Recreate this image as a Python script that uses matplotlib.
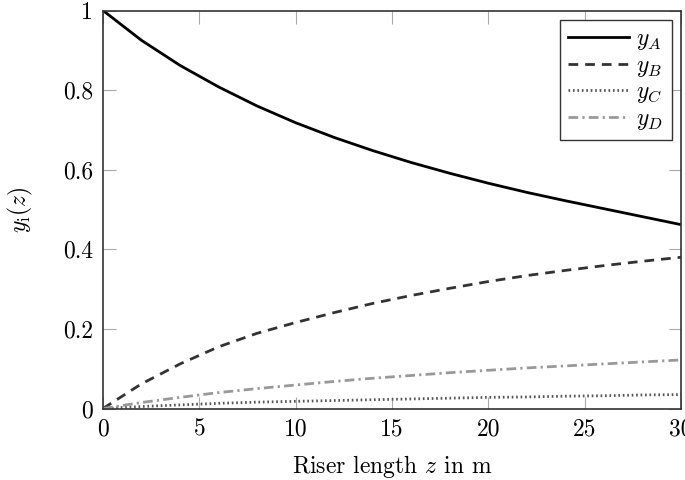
import numpy as np
import matplotlib
matplotlib.use("Agg")
import matplotlib.pyplot as plt

z = [0, 2, 4, 6, 8, 10, 12, 14, 16, 18, 20, 22, 24, 26, 28, 30]
y_A = [1.0, 0.925, 0.862, 0.808, 0.760, 0.718, 0.681, 0.648, 0.618, 0.591, 0.566, 0.543, 0.522, 0.502, 0.482, 0.462]
y_B = [0.0, 0.062, 0.112, 0.155, 0.189, 0.216, 0.241, 0.264, 0.284, 0.302, 0.319, 0.334, 0.347, 0.359, 0.370, 0.380]
y_C = [0.0, 0.005, 0.009, 0.013, 0.016, 0.018, 0.020, 0.022, 0.024, 0.026, 0.028, 0.029, 0.031, 0.032, 0.034, 0.035]
y_D = [0.0, 0.015, 0.028, 0.040, 0.050, 0.059, 0.068, 0.076, 0.083, 0.090, 0.096, 0.102, 0.107, 0.112, 0.117, 0.122]
x_ticks = [0, 5, 10, 15, 20, 25, 30]
y_ticks = [0, 0.2, 0.4, 0.6, 0.8, 1]
y_tick_labels = ['0', '0.2', '0.4', '0.6', '0.8', '1']

plt.rcParams['font.family'] = 'serif'
plt.rcParams['font.serif'] = ['cmr10', 'DejaVu Serif']
plt.rcParams['mathtext.fontset'] = 'cm'
plt.rcParams['axes.formatter.use_mathtext'] = True

fig = plt.figure(figsize=(6.85, 4.8), dpi=100)
ax = fig.add_axes([103/685, 1-408.5/480, 578/685, 398/480])

ax.plot(z, y_A, color='black', lw=2.0, ls='-', label=r'$y_A$')
ax.plot(z, y_B, color='#333333', lw=2.0, ls=(0, (3.5, 2.5)), label=r'$y_B$')
ax.plot(z, y_C, color='#555555', lw=2.0, ls=(0, (0.6, 1.0)), label=r'$y_C$')
ax.plot(z, y_D, color='#999999', lw=2.0, ls=(0, (3.5, 1.5, 0.8, 1.5)), label=r'$y_D$')

ax.set_xlim(0, 30)
ax.set_ylim(0, 1)
ax.set_xticks(x_ticks)
ax.set_yticks(y_ticks)
ax.set_xticklabels([str(v) for v in x_ticks])
ax.set_yticklabels(y_tick_labels)
ax.tick_params(direction='in', length=9, width=0.8, color='#aaaaaa',
               top=True, right=True, labelsize=17, pad=7)
for s in ax.spines.values():
    s.set_linewidth(1.2)
    s.set_color('#333333')

ax.set_xlabel(r'Riser length $z$ in m', fontsize=17, labelpad=9)
ax.set_ylabel(r'$y_{\mathrm{i}}(z)$', fontsize=17, labelpad=20)

leg = ax.legend(loc='upper right', borderaxespad=0.4,
                fontsize=17, frameon=True, fancybox=False, edgecolor='#333333',
                framealpha=1, handlelength=2.6, borderpad=0.35, labelspacing=0.1,
                handletextpad=0.3)
leg.get_frame().set_linewidth(1.0)

fig.savefig('out.png', dpi=100)
